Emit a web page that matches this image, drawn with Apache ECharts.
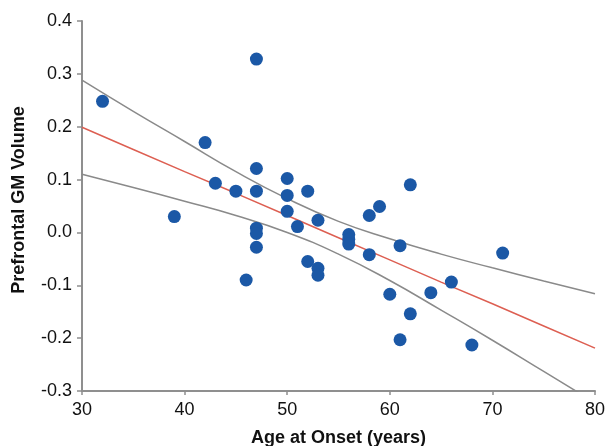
<!DOCTYPE html>
<html>
<head>
<meta charset="utf-8">
<style>
html,body{margin:0;padding:0;background:#fff;}
#chart{width:607px;height:446px;}
</style>
<script src="https://cdn.jsdelivr.net/npm/echarts@6/dist/echarts.min.js"></script>
</head>
<body>
<div id="chart"></div>
<script>
// Scatter data: age at onset (years) and prefrontal GM volume
var ages    = [32, 39, 42, 43, 45, 46, 47, 47, 47, 47, 47, 47, 50, 50, 50, 51, 52, 52, 53, 53, 53, 56, 56, 56, 58, 58, 59, 60, 61, 61, 62, 62, 64, 66, 68, 71];
var volumes = [0.248, 0.030, 0.170, 0.093, 0.078, -0.090, 0.328, 0.121, 0.078, 0.008, -0.002, -0.028, 0.102, 0.070, 0.040, 0.011, 0.078, -0.055, 0.023, -0.068, -0.081, -0.004, -0.013, -0.022, 0.032, -0.042, 0.049, -0.117, -0.025, -0.203, 0.090, -0.154, -0.114, -0.094, -0.213, -0.039];

// Regression line and confidence band
var lineX  = [30, 35, 40, 45, 50, 55, 60, 65, 70, 75, 80];
var fitY   = [0.199, 0.157, 0.115, 0.074, 0.032, -0.010, -0.052, -0.094, -0.135, -0.177, -0.219];
var upperY = [0.288, 0.229, 0.172, 0.115, 0.064, 0.021, -0.012, -0.041, -0.067, -0.092, -0.116];
var lowerY = [0.110, 0.085, 0.059, 0.032, 0.000, -0.041, -0.091, -0.147, -0.204, -0.263, -0.322];

// Axis ticks
var xTicks = {min: 30, max: 80, step: 10};
var yTicks = {min: -0.3, max: 0.4, step: 0.1};

function pairs(xs, ys) { return xs.map(function (x, i) { return [x, ys[i]]; }); }

var FONT = "'Liberation Sans', Arial, Helvetica, sans-serif";
var AXIS_GRAY = '#8f8f8f';

var chart = echarts.init(document.getElementById('chart'), null, {renderer: 'canvas'});
chart.setOption({
  animation: false,
  backgroundColor: '#ffffff',
  grid: {left: 82, right: 12, top: 21, bottom: 55, containLabel: false, outerBoundsMode: 'none'},
  xAxis: {
    type: 'value',
    min: xTicks.min, max: xTicks.max, interval: xTicks.step,
    name: 'Age at Onset (years)',
    nameLocation: 'middle',
    nameGap: 38,
    nameTextStyle: {fontFamily: FONT, fontSize: 18, fontWeight: 'bold', color: '#111'},
    axisLine: {show: true, onZero: false, lineStyle: {color: AXIS_GRAY, width: 2}},
    axisTick: {show: true, inside: false, length: 4, lineStyle: {color: AXIS_GRAY, width: 1.5}},
    axisLabel: {fontFamily: FONT, fontSize: 18, color: '#111', margin: 10},
    splitLine: {show: false}
  },
  yAxis: {
    type: 'value',
    min: yTicks.min, max: yTicks.max, interval: yTicks.step,
    name: 'Prefrontal GM Volume',
    nameLocation: 'middle',
    nameGap: 54,
    nameTextStyle: {fontFamily: FONT, fontSize: 18, fontWeight: 'bold', color: '#111', padding: [0, 0, 0, 12]},
    axisLine: {show: true, onZero: false, lineStyle: {color: AXIS_GRAY, width: 2}},
    axisTick: {show: true, inside: false, length: 5, lineStyle: {color: AXIS_GRAY, width: 1.5}},
    axisLabel: {
      fontFamily: FONT, fontSize: 18, color: '#111', margin: 10,
      formatter: function (v) { return Math.abs(v) < 1e-9 ? '0.0' : v.toFixed(1); }
    },
    splitLine: {show: false}
  },
  series: [
    {
      type: 'line', data: pairs(lineX, upperY), smooth: true, showSymbol: false, clip: true,
      lineStyle: {color: '#8a8a8a', width: 1.5}, z: 1, silent: true
    },
    {
      type: 'line', data: pairs(lineX, lowerY), smooth: true, showSymbol: false, clip: true,
      lineStyle: {color: '#8a8a8a', width: 1.5}, z: 1, silent: true
    },
    {
      type: 'line', data: pairs(lineX, fitY), showSymbol: false, clip: true,
      lineStyle: {color: '#dd5f52', width: 1.5}, z: 2, silent: true
    },
    {
      type: 'scatter', data: pairs(ages, volumes), symbol: 'circle', symbolSize: 13,
      itemStyle: {color: '#1b58a6', opacity: 1}, z: 5
    }
  ]
});
</script>
</body>
</html>
